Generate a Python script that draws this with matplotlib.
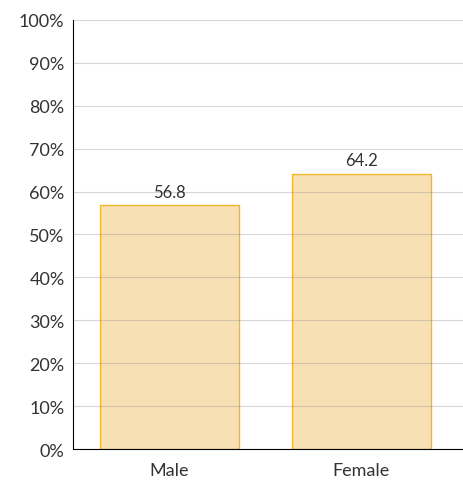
import matplotlib.pyplot as plt
from matplotlib.ticker import PercentFormatter

categories = ['Male', 'Female']
values = [56.8, 64.2]
yticks = [0, 10, 20, 30, 40, 50, 60, 70, 80, 90, 100]

plt.rcParams['font.family'] = ['Lato', 'DejaVu Sans']

fig = plt.figure(figsize=(4.64, 4.81), dpi=100)
ax = fig.add_axes([0.157, 0.0644, 0.843, 0.892])

x = range(len(categories))
bars = ax.bar(x, values, width=0.724, color='#f8e0b5', edgecolor='#f2b62c', linewidth=1.0, zorder=1)
for b, v in zip(bars, values):
    ax.text(b.get_x() + b.get_width() / 2, v + 1.2, f'{v:.1f}', ha='center', va='bottom',
            fontsize=12, color='#333333')

ax.set_ylim(0, 100)
ax.set_xlim(-0.503, 1.534)
ax.set_yticks(yticks)
ax.yaxis.set_major_formatter(PercentFormatter(decimals=0))
ax.set_xticks(list(x))
ax.set_xticklabels(categories)
ax.grid(axis='y', color='#8c8c8c', alpha=0.35, linewidth=0.8, zorder=2)
ax.set_axisbelow(False)
for s in ['top', 'right']:
    ax.spines[s].set_visible(False)
ax.spines['left'].set_color('black')
ax.spines['bottom'].set_color('black')
ax.spines['left'].set_zorder(3)
ax.spines['bottom'].set_zorder(3)
ax.tick_params(length=0, labelsize=13, colors='#333333', pad=6)
ax.tick_params(axis='x', pad=9)

fig.savefig('out.png', dpi=100)
